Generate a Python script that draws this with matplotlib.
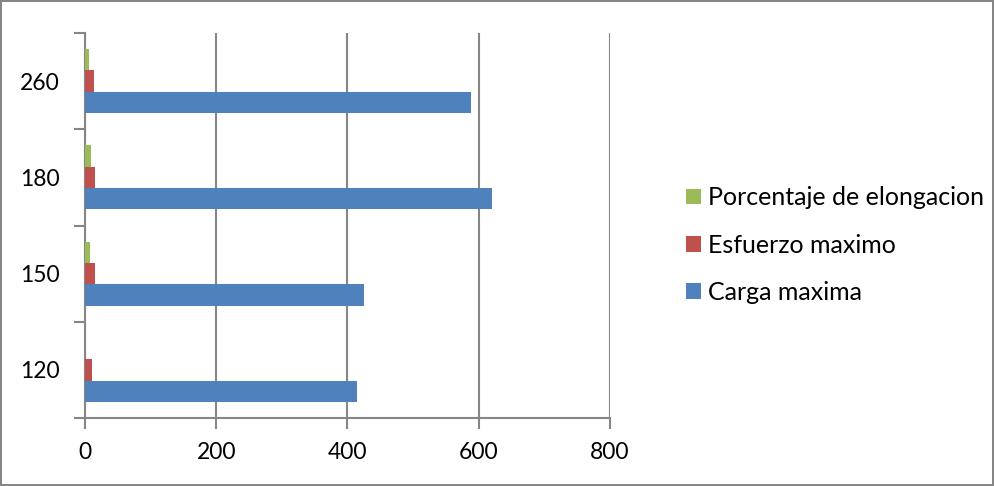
import matplotlib.pyplot as plt
import numpy as np

plt.rcParams['font.family'] = ['Lato', 'DejaVu Sans']

categorias = ['120', '150', '180', '260']
carga = [415, 425, 620, 588]
esfuerzo = [11, 15.5, 15.5, 13.5]
elongacion = [0.5, 7, 8.5, 6]

azul = '#4f81bd'
rojo = '#c0504d'
verde = '#9bbb59'
gris = '#868686'

fig = plt.figure(figsize=(9.94, 4.86), dpi=100)
fig.patch.set_edgecolor(gris)
fig.patch.set_linewidth(1.5)
ax = fig.add_axes([85/994, 1-418/486, (610-85)/994, (418-33)/486])

y = np.arange(len(categorias))
h = 1/4.5
ax.barh(y - h, carga, h, color=azul, label='Carga maxima', zorder=3)
ax.barh(y, esfuerzo, h, color=rojo, label='Esfuerzo maximo', zorder=3)
ax.barh(y + h, elongacion, h, color=verde, label='Porcentaje de elongacion', zorder=3)

ax.set_xlim(0, 800)
ax.set_ylim(-0.5, 3.5)
ax.set_xticks([0, 200, 400, 600, 800])
ax.set_yticks(y)
ax.set_yticklabels(categorias)
ax.set_yticks(np.arange(-0.5, 4, 1), minor=True)
ax.tick_params(axis='y', which='major', length=0, labelsize=16.5, pad=18)
ax.tick_params(axis='y', which='minor', length=8, width=1.5, color=gris)
ax.tick_params(axis='x', length=8, width=1.5, color=gris, labelsize=16.5, pad=9)
ax.grid(axis='x', color=gris, linewidth=1.5, zorder=0)
for s in ['top', 'right']:
    ax.spines[s].set_visible(False)
for s in ['left', 'bottom']:
    ax.spines[s].set_color(gris)
    ax.spines[s].set_linewidth(1.5)

handles, labels = ax.get_legend_handles_labels()
fig.legend(handles[::-1], labels[::-1], loc='center left',
           bbox_to_anchor=(663/994, 1-245/486), frameon=False,
           fontsize=18, labelspacing=0.97, handlelength=0.6,
           handleheight=0.6, handletextpad=0.28)

fig.savefig('out.png', dpi=100)
